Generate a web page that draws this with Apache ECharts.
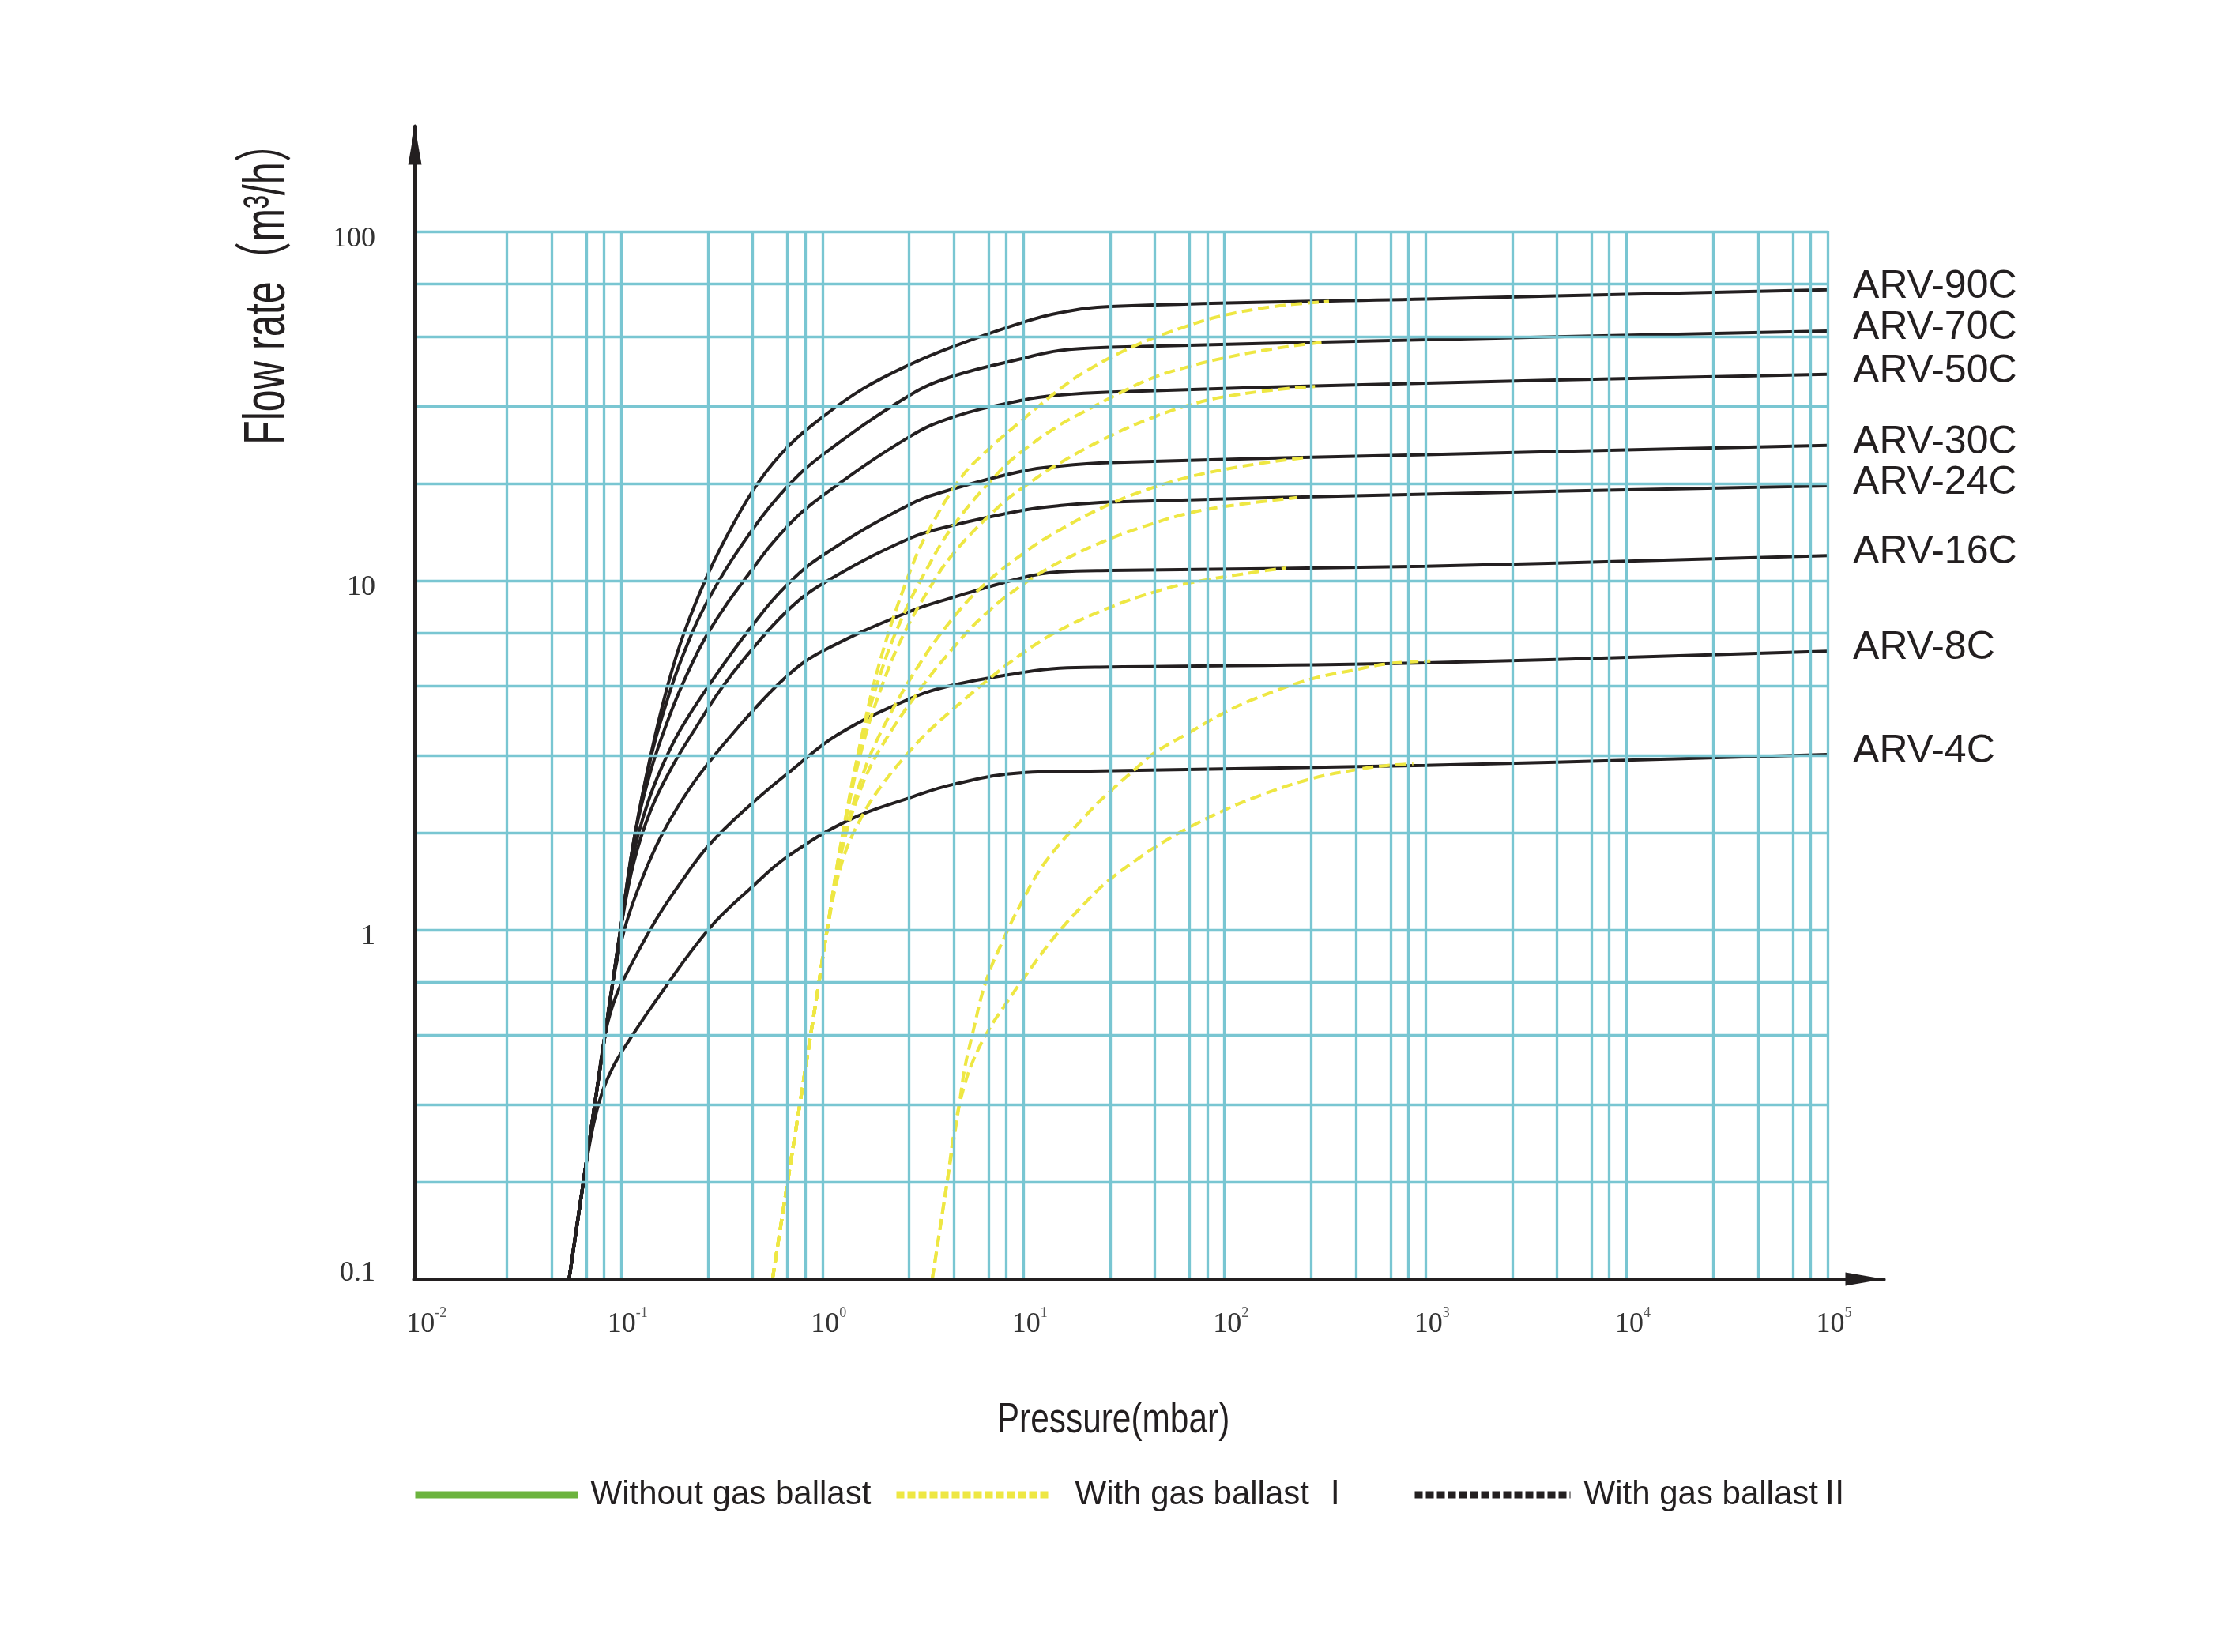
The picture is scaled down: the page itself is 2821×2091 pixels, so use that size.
<!DOCTYPE html>
<html lang="en">
<head>
<meta charset="UTF-8">
<title>ARV flow rate curves</title>
<style>
  html, body { margin: 0; background: #fff; }
  #chart { width: 2821px; height: 2091px; }
</style>
</head>
<body>
<div id="chart"></div>
<script src="https://cdn.jsdelivr.net/npm/echarts@6/dist/echarts.min.js"></script>
<script>
// pressure (mbar), flow rate (m3/h)
const dry90 = [[0.055,0.1],[0.0647,0.189],[0.0738,0.317],[0.083,0.5],[0.0908,0.71],[0.0991,1.0],[0.117,1.88],[0.14,3.16],[0.17,5.0],[0.205,7.08],[0.273,10.6],[0.36,14.5],[0.48,19.1],[0.67,24.1],[1.0,29.4],[1.585,35.4],[2.7,41.5],[4.45,46.8],[9.9,54.9],[15.1,58.5],[27.1,61.0],[1000,64.1],[100000,68.1]];
const dry70 = [[0.055,0.1],[0.0647,0.189],[0.0738,0.317],[0.083,0.5],[0.0908,0.71],[0.0991,1.0],[0.117,1.88],[0.14,3.1],[0.16,4.1],[0.2,6.0],[0.273,8.9],[0.449,14.0],[0.67,18.6],[1.0,22.9],[2.7,33.9],[4.45,38.5],[9.9,43.3],[15.1,45.6],[27.1,46.6],[1000,49.0],[100000,51.9]];
const dry50 = [[0.055,0.1],[0.0647,0.189],[0.0738,0.317],[0.083,0.5],[0.0908,0.71],[0.0991,1.0],[0.117,1.88],[0.14,2.85],[0.164,3.75],[0.2,5.0],[0.273,7.16],[0.449,10.8],[0.67,14.3],[1.0,17.5],[2.7,25.8],[4.45,29.4],[9.9,32.9],[15.1,34.0],[27.1,34.7],[1000,36.8],[100000,39.0]];
const dry30 = [[0.055,0.1],[0.0647,0.189],[0.0738,0.317],[0.083,0.5],[0.0908,0.71],[0.0991,1.0],[0.115,1.65],[0.135,2.3],[0.16,2.95],[0.197,3.75],[0.273,5.02],[0.449,7.45],[0.67,9.75],[1.0,11.8],[2.7,16.5],[4.45,18.3],[9.9,20.6],[15.1,21.3],[27.1,21.8],[1000,22.96],[100000,24.4]];
const dry24 = [[0.055,0.1],[0.0647,0.189],[0.0738,0.317],[0.083,0.5],[0.0908,0.71],[0.0991,1.0],[0.115,1.55],[0.14,2.2],[0.18,2.95],[0.236,3.81],[0.31,4.86],[0.421,6.1],[0.662,8.15],[1.0,9.8],[2.7,13.2],[4.45,14.4],[9.9,15.9],[15.1,16.4],[27.1,16.8],[1000,17.7],[100000,18.7]];
const dry16 = [[0.055,0.1],[0.0647,0.189],[0.0738,0.317],[0.083,0.5],[0.0908,0.71],[0.103,0.99],[0.12,1.29],[0.15,1.75],[0.19,2.24],[0.25,2.83],[0.382,3.81],[0.662,5.31],[1.0,6.28],[2.7,8.15],[4.45,8.95],[9.9,10.2],[15.1,10.6],[27.1,10.7],[1000,11.0],[100000,11.8]];
const dry8 = [[0.055,0.1],[0.0647,0.189],[0.0738,0.317],[0.083,0.5],[0.09,0.6],[0.10,0.70],[0.146,1.05],[0.2,1.38],[0.273,1.75],[0.434,2.27],[0.705,2.87],[1.19,3.62],[2.7,4.58],[4.45,5.02],[9.9,5.46],[15.1,5.62],[27.1,5.66],[1000,5.82],[100000,6.28]];
const dry4 = [[0.055,0.1],[0.0647,0.189],[0.072,0.27],[0.08,0.34],[0.09,0.40],[0.1004,0.447],[0.146,0.618],[0.273,1.007],[0.449,1.33],[0.669,1.62],[1.37,2.07],[2.72,2.39],[4.47,2.61],[9.9,2.82],[21.6,2.85],[1000,2.96],[100000,3.18]];

const gas90 = [[0.565,0.1],[0.671,0.189],[0.773,0.317],[0.875,0.5],[0.962,0.708],[1.056,1.0],[1.26,1.85],[1.585,3.68],[1.995,6.25],[2.74,10.7],[3.33,13.7],[4.82,19.5],[6.34,23.1],[9.97,29.0],[15.1,35.3],[20,39.5],[35.3,46.9],[62,53.1],[98.8,57.5],[177,61.0],[331,63.1]];
const gas70 = [[0.565,0.1],[0.671,0.189],[0.773,0.317],[0.875,0.5],[0.962,0.708],[1.056,1.0],[1.26,1.88],[1.585,3.58],[2.0,5.68],[2.51,7.9],[3.22,10.5],[4.45,14.3],[7.69,20.7],[9.97,23.6],[15.1,27.9],[19.2,30.1],[31.2,34.8],[44.4,38.2],[66.2,41.0],[98.8,43.4],[177,46.2],[306,48.2]];
const gas50 = [[0.565,0.1],[0.671,0.189],[0.773,0.317],[0.875,0.5],[0.962,0.708],[1.056,1.0],[1.26,1.85],[1.585,3.36],[2.0,5.08],[2.51,6.93],[3.33,9.3],[4.45,11.9],[7.45,16.2],[9.97,18.5],[15.1,21.7],[27.1,26.0],[44.4,29.4],[66.2,31.8],[98.8,33.6],[177,35.2],[282,36.0]];
const gas30 = [[0.565,0.1],[0.671,0.189],[0.773,0.317],[0.875,0.5],[0.962,0.708],[1.056,1.0],[1.26,1.75],[1.585,2.77],[2.0,3.78],[3.02,5.73],[4.45,7.8],[6.34,9.71],[9.97,11.97],[15.1,13.96],[27.1,16.6],[44.4,18.5],[66.2,19.8],[98.8,20.8],[145,21.6],[247,22.5]];
const gas24 = [[0.565,0.1],[0.671,0.189],[0.773,0.317],[0.875,0.5],[0.962,0.708],[1.056,1.0],[1.26,1.72],[1.585,2.61],[2.0,3.4],[3.02,4.83],[4.59,6.53],[6.56,8.09],[9.97,9.77],[15.1,11.3],[27.1,13.2],[44.4,14.6],[66.2,15.6],[98.8,16.3],[230,17.3]];
const gas16 = [[0.565,0.1],[0.671,0.189],[0.773,0.317],[0.875,0.5],[0.962,0.708],[1.056,1.0],[1.26,1.58],[1.585,2.13],[2.0,2.62],[2.67,3.21],[3.5,3.78],[6.34,5.08],[9.97,6.21],[15.1,7.21],[27.1,8.4],[44.4,9.27],[66.2,9.84],[145,10.6],[202,10.87]];
const gas8 = [[3.52,0.1],[4.17,0.189],[4.8,0.317],[5.1,0.4],[5.52,0.49],[6.5,0.71],[7.96,0.94],[9.73,1.19],[12.9,1.57],[21.6,2.2],[26.7,2.48],[36.1,2.89],[44.7,3.21],[66.1,3.66],[97.8,4.16],[140,4.58],[264,5.21],[441,5.55],[653,5.79],[1057,5.89]];
const gas4 = [[3.52,0.1],[4.17,0.189],[4.6,0.28],[5.1,0.36],[5.7,0.43],[6.76,0.52],[7.96,0.6],[9.73,0.71],[14.6,0.97],[21.6,1.24],[26.7,1.39],[37.2,1.6],[44.7,1.72],[66.1,1.96],[97.8,2.19],[140,2.39],[264,2.7],[441,2.87],[653,2.96],[869,2.99]];

const modelNames = ['ARV-90C', 'ARV-70C', 'ARV-50C', 'ARV-30C', 'ARV-24C', 'ARV-16C', 'ARV-8C', 'ARV-4C'];
const dryCurves = [dry90, dry70, dry50, dry30, dry24, dry16, dry8, dry4];
const gasCurves = [gas90, gas70, gas50, gas30, gas24, gas16, gas8, gas4];

const xGridLines = [0.027,0.045,0.067,0.082,0.1, 0.27,0.45,0.67,0.82,1, 2.7,4.5,6.7,8.2,10, 27,45,67,82,100,
  270,450,670,820,1000, 2700,4500,6700,8200,10000, 27000,45000,67000,82000,100000];
const yGridLines = [0.19,0.316,0.5,0.707,1, 1.9,3.16,5,7.07,10, 19,31.6,50,70.7,100];
const yTickLabels = ['0.1', '1', '10', '100'];
const legendNames = ['Without gas ballast', 'With gas ballast Ⅰ', 'With gas ballastⅡ'];

const X_MIN = 0.0094, X_MAX = 190000, Y_MIN = 0.1, Y_MAX = 200;
const BLACK = '#231f20', GRID = '#79c6d2', YELLOW = '#eee743', GREEN = '#6cb33e';
const SANS = '"Liberation Sans", Arial, "Noto Sans CJK SC", sans-serif';
const SERIF = '"Liberation Serif", "DejaVu Serif", serif';

function isDecade(v) {
  const e = Math.log10(v);
  return Math.abs(e - Math.round(e)) < 1e-6;
}

const gridLines = [];
xGridLines.forEach(v => gridLines.push([{ coord: [v, Y_MIN] }, { coord: [v, 100] }]));
yGridLines.forEach(v => gridLines.push([{ coord: [X_MIN, v] }, { coord: [100000, v] }]));

const series = [{
  name: 'grid', type: 'line', data: [], silent: true, z: 1,
  markLine: {
    silent: true, symbol: 'none', animation: false,
    label: { show: false },
    emphasis: { disabled: true },
    lineStyle: { color: GRID, width: 3.3, type: 'solid', opacity: 1 },
    data: gridLines
  }
}];

modelNames.forEach((name, i) => {
  series.push({
    name: name, type: 'line', data: dryCurves[i],
    symbol: 'none', smooth: 0.4, z: 3, silent: true,
    lineStyle: { color: BLACK, width: 4 },
    emphasis: { disabled: true },
    endLabel: {
      show: true, formatter: () => name, distance: 32, offset: [0, -4],
      color: BLACK, fontSize: 50, fontFamily: SANS
    }
  });
});
gasCurves.forEach(d => {
  series.push({
    name: legendNames[1], type: 'line', data: d,
    symbol: 'none', smooth: 0.4, z: 4, silent: true,
    lineStyle: { color: YELLOW, width: 4, type: [14, 7] },
    itemStyle: { color: YELLOW },
    emphasis: { disabled: true }
  });
});
// legend-only entries
series.push({ name: legendNames[0], type: 'line', data: [], symbol: 'none', lineStyle: { color: GREEN, width: 9 }, itemStyle: { color: GREEN } });
series.push({ name: legendNames[2], type: 'line', data: [], symbol: 'none', lineStyle: { color: BLACK, width: 9, type: [10, 4] }, itemStyle: { color: BLACK } });

function legendAt(name, left, width, gap, lineStyle) {
  return {
    data: [{ name: name, lineStyle: lineStyle, itemStyle: { color: lineStyle.color, opacity: 0 } }],
    left: left, top: 1866, itemWidth: width, itemHeight: 20,
    selectedMode: false,
    formatter: n => '{t|' + n + '}',
    textStyle: {
      rich: { t: { padding: [0, 0, 0, gap], fontSize: 42, fontFamily: SANS, color: BLACK } }
    }
  };
}

const option = {
  animation: false,
  backgroundColor: '#fff',
  grid: { left: 525, right: 437, top: 160, bottom: 472 },
  xAxis: {
    type: 'log', logBase: 10, min: X_MIN, max: X_MAX, splitNumber: 8, z: 5,
    axisLine: {
      show: true, onZero: false, symbol: ['none', 'triangle'],
      symbolSize: [17, 49], symbolOffset: [0, -24],
      lineStyle: { color: BLACK, width: 5 }
    },
    axisTick: { show: false },
    splitLine: { show: false },
    axisLabel: {
      margin: 34,
      formatter: v => isDecade(v) ? '{b|10}{e|' + Math.round(Math.log10(v)) + '}' : '',
      rich: {
        b: { fontSize: 36, fontFamily: SERIF, color: '#333', lineHeight: 40, padding: [8, 0, 0, 16] },
        e: { fontSize: 18, fontFamily: SERIF, color: '#555', verticalAlign: 'top', lineHeight: 14 }
      }
    }
  },
  yAxis: {
    type: 'log', logBase: 10, min: Y_MIN, max: Y_MAX, z: 5,
    axisLine: {
      show: true, onZero: false, symbol: ['none', 'triangle'],
      symbolSize: [17, 49], symbolOffset: [0, -24],
      lineStyle: { color: BLACK, width: 5 }
    },
    axisTick: { show: false },
    splitLine: { show: false },
    axisLabel: {
      margin: 50,
      formatter: v => {
        if (!isDecade(v)) return '';
        const e = Math.round(Math.log10(v));
        return (e < 0 ? '{d|' : '{u|') + yTickLabels[e + 1] + '}';
      },
      rich: {
        u: { fontSize: 36, fontFamily: SERIF, color: '#333', padding: [18, 0, 0, 0] },
        d: { fontSize: 36, fontFamily: SERIF, color: '#333', padding: [0, 0, 14, 0] }
      }
    }
  },
  legend: [
    legendAt(legendNames[0], 516, 206, 11, { color: GREEN, width: 9, type: 'solid' }),
    legendAt(legendNames[1], 1125, 195, 26, { color: YELLOW, width: 9, type: [10, 4] }),
    legendAt(legendNames[2], 1781, 197, 12, { color: BLACK, width: 9, type: [10, 4] })
  ],
  graphic: [
    {
      type: 'text', x: 340, y: 359, rotation: Math.PI / 2, scaleX: 0.68, silent: true,
      style: {
        text: 'Flow rate（m³/h）', font: '74px ' + SANS, fill: BLACK,
        align: 'center', verticalAlign: 'middle', textAlign: 'center', textVerticalAlign: 'middle'
      }
    },
    {
      type: 'text', x: 1409, y: 1798, scaleX: 0.8, silent: true,
      style: {
        text: 'Pressure(mbar)', font: '53px ' + SANS, fill: BLACK,
        align: 'center', verticalAlign: 'middle', textAlign: 'center', textVerticalAlign: 'middle'
      }
    }
  ],
  series: series
};

const chart = echarts.init(document.getElementById('chart'));
chart.setOption(option);
</script>
</body>
</html>
